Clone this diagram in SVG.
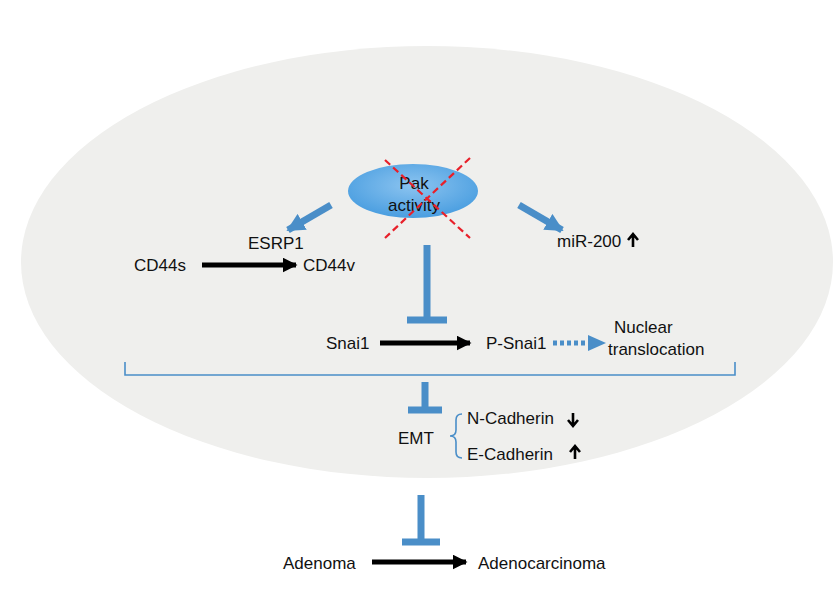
<svg xmlns="http://www.w3.org/2000/svg" width="833" height="600" viewBox="0 0 833 600">
<defs>
<radialGradient id="pg" cx="0.5" cy="0.4" r="0.6"><stop offset="0" stop-color="#8cc4f0"/><stop offset="1" stop-color="#4a9ee0"/></radialGradient>
<marker id="bk" viewBox="0 0 10 10" refX="9" refY="5" markerWidth="3" markerHeight="3" orient="auto"><path d="M0,0L10,5L0,10z" fill="#000"/></marker>
<marker id="bl" viewBox="0 0 10 10" refX="9" refY="5" markerWidth="2.6" markerHeight="2.6" orient="auto"><path d="M0,0L10,5L0,10z" fill="#4a8ec8"/></marker>
</defs>
<style>
text{font-family:"Liberation Sans",Arial,sans-serif;font-size:17px;fill:#111}
.blk{stroke:#000;stroke-width:5;fill:none}
.blu{stroke:#4a8ec8;stroke-width:7;fill:none}
.thin{stroke:#4a8ec8;stroke-width:1.6;fill:none}
.up{stroke:#000;stroke-width:2.6;fill:none}
</style>
<rect width="833" height="600" fill="#fff"/>
<ellipse cx="427" cy="262" rx="406" ry="216" fill="#efefed"/>
<g id="pak">
<ellipse cx="413" cy="191" rx="65" ry="27" fill="url(#pg)"/>
<text x="414" y="189" text-anchor="middle">Pak</text>
<text x="414" y="211" text-anchor="middle">activity</text>
<path d="M385,160L470,238M470,158L385,238" stroke="#e8202a" stroke-width="2.2" stroke-dasharray="7,4" fill="none"/>
</g>
<g id="cd44s"><text x="134" y="271">CD44s</text></g>
<g id="esrp1"><text x="248" y="249">ESRP1</text></g>
<g id="cd44v"><text x="303" y="271">CD44v</text></g>
<g id="mir200"><text x="557" y="247">miR-200</text></g>
<g id="snai1"><text x="326" y="349">Snai1</text></g>
<g id="psnai1"><text x="486" y="349">P-Snai1</text></g>
<g id="nuclear"><text x="614" y="333">Nuclear</text><text x="608" y="355">translocation</text></g>
<g id="emt"><text x="398" y="444">EMT</text></g>
<g id="ncad"><text x="467" y="424">N-Cadherin</text></g>
<g id="ecad"><text x="467" y="460">E-Cadherin</text></g>
<g id="adenoma"><text x="283" y="569">Adenoma</text></g>
<g id="adenocarcinoma"><text x="478" y="569">Adenocarcinoma</text></g>
<g id="connectors">
<line x1="331" y1="205" x2="288" y2="230" class="blu" marker-end="url(#bl)"/>
<line x1="519" y1="205" x2="562" y2="230" class="blu" marker-end="url(#bl)"/>
<line x1="202" y1="265" x2="296" y2="265" class="blk" marker-end="url(#bk)"/>
<path d="M427,245V320M407,320H447" class="blu"/>
<line x1="380" y1="343" x2="470" y2="343" class="blk" marker-end="url(#bk)"/>
<line x1="553" y1="343" x2="588" y2="343" stroke="#4a8ec8" stroke-width="5" stroke-dasharray="4,3"/>
<path d="M588,335L606,343L588,351z" fill="#4a8ec8"/>
<path d="M125,362V375H735V362" class="thin"/>
<path d="M425,382V410M408,410H442" class="blu"/>
<path d="M462,414Q456,414 456,420V430Q456,436 450,436Q456,436 456,442V452Q456,458 462,458" class="thin"/>
<path d="M573,413V425M568,420L573,426L578,420" class="up"/>
<path d="M575,459V447M570,452L575,446L580,452" class="up"/>
<path d="M633,247V235M628,240L633,234L638,240" class="up"/>
<path d="M421,495V542M402,542H440" class="blu"/>
<line x1="372" y1="562" x2="466" y2="562" class="blk" marker-end="url(#bk)"/>
</g>
</svg>
